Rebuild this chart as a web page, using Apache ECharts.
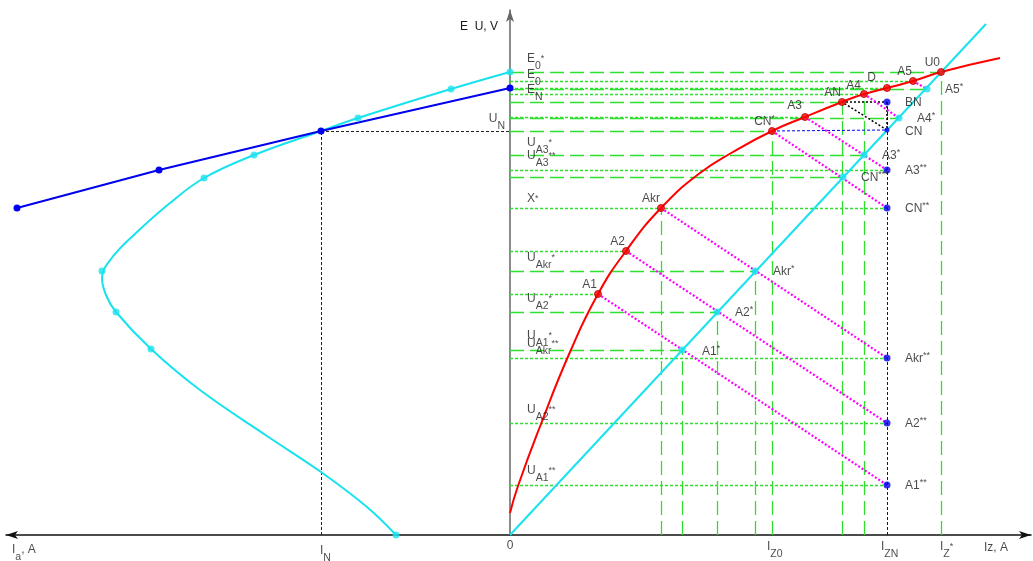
<!DOCTYPE html>
<html><head><meta charset="utf-8">
<script src="https://cdn.jsdelivr.net/npm/echarts@6/dist/echarts.min.js"></script>
<style>html,body{margin:0;padding:0;background:#fff}#c{width:1033px;height:561px}</style>
</head><body><div id="c"></div>
<script>
// ---------------- data (arbitrary units) ----------------
// right half: Iz (x) vs U (y)
const redCurve = [[0,22],[8,49],[31,111],[60,183],[88,241],[116,284],[151,327],[190,362],[223,383],[262,404],[295,418],[332,433],[354,441],[377,447],[403,454],[431,463],[490,477]];
const redPoints = [['A1',88,241],['A2',116,284],['Akr',151,327],['CN*',262,404],['A3',295,418],['AN',332,433],['A4',354,441],['D',377,447],['A5',403,454],['U0',431,463]];
const cyanLine = [[0,0],[476,511]];
const cyanPoints = [['A1*',172,185],['A2*',207,223],['Akr*',245,264],['CN***',333,358],['A3*',354,380],['A4*',389,417],['A5*',417,446]];
const bluePoints = [['BN',377,433],['CN',377,405],['A3**',377,365],['CN**',377,327],['Akr**',377,177],['A2**',377,112],['A1**',377,50]];
// left half: Ia (negative x) vs E
const leftBlue = [[-493,327],[-351,365],[-189,404],[0,447]];
const leftCyanCurve = [[0,463],[-59,446],[-152,417],[-189,404],[-256,380],[-306,357],[-340,332],[-374,302],[-399,276],[-408,257],[-404,240],[-394,223],[-359,186],[-310,145],[-243,99],[-189,63],[-143,28],[-114,0]];
const leftCyanMarks = [[0,463],[-59,446],[-152,417],[-256,380],[-306,357],[-408,264],[-394,223],[-359,186],[-114,0]];
const pointIN = [-189,404];
// construction lines (by point name)
const magentaPairs = [['A1','A1**'],['A2','A2**'],['Akr','Akr**'],['CN*','CN**'],['A3','A3**'],['A4','A4*'],['A5','A5*']];
const hDashedTo = ['U0','A5*','AN','A4*','CN*','A3*','CN***','Akr*','A2*','A1*'];
const hDottedTo = ['A5','D','A4','A3','A3**','CN**','A2','A1','Akr**','A2**','A1**'];
const vDashedFrom = ['Akr','A1*','A2*','Akr*','CN*','AN','A4','U0'];
const triangle = ['AN','BN','CN','AN'];
// text labels
const axisLabels = [['E_0^*',463],['E_0',454],['E_N',447],['U_A3^*',380],['U_A3^**',365],['X^*',327],['U_Akr^*',264],['U_A2^*',223],['U_A1^*',185],['U_Akr^**',177],['U_A2^**',112],['U_A1^**',50]];
const bottomLabels = [['0',0],['I_Z0',262],['I_ZN',377],['I_Z^*',431],['I_N',-189]];
const xName = 'Iz, A';
const yName = 'E  U, V';
const leftName = 'I_a|, A';

// ---------------- styling ----------------
const X_MIN = -504, X_MAX = 521, Y_MIN = 0, Y_MAX = 525;
const FONT = '"Liberation Sans", Arial, sans-serif';
const TXT = '#1a1a1a';
const GREEN = '#2fe02f', RED = '#ff0000', CYAN = '#19e2ef', BLUE = '#0000ee', MAG = '#ff00ff';

const pts = {};
redPoints.concat(cyanPoints, bluePoints).forEach(p => pts[p[0]] = [p[1], p[2]]);

function rich(str) {
  let tail = '';
  if (str.indexOf('|') >= 0) { tail = str.split('|')[1]; str = str.split('|')[0]; }
  let sup = '', sub = '', main = str;
  if (main.indexOf('^') >= 0) { sup = main.split('^')[1]; main = main.split('^')[0]; }
  if (main.indexOf('_') >= 0) { sub = main.split('_')[1]; main = main.split('_')[0]; }
  let s = '{m|' + main + '}';
  if (sub) s += '{s|' + sub + '}';
  if (sup) s += '{p|' + sup + '}';
  if (tail) s += '{m|' + tail + '}';
  return s;
}
function richPoint(str) {
  const m = str.match(/^(.*?)(\**)$/);
  return '{m|' + m[1] + '}' + (m[2] ? '{p|' + m[2] + '}' : '');
}
const RICH_AX = {
  m: {fontSize: 12, fontFamily: FONT, color: TXT, lineHeight: 26},
  s: {fontSize: 10.5, fontFamily: FONT, color: TXT, lineHeight: 15, verticalAlign: 'bottom'},
  p: {fontSize: 9, fontFamily: FONT, color: TXT, lineHeight: 26, verticalAlign: 'middle'}
};
const RICH_PT = {
  m: {fontSize: 12, fontFamily: FONT, color: TXT, lineHeight: 16},
  p: {fontSize: 9, fontFamily: FONT, color: TXT, lineHeight: 12, verticalAlign: 'top'}
};
const redOffsets = {'D': [-11,-10], 'CN*': [3,-9], 'A3': [-3,-11], 'A4': [-3,-8]};
const rightOffsets = {'A1*': [20,2], 'CN': [18,2]};
const axisDy = {'E_0^*': -13, 'E_0': -6.5, 'E_N': 1.5, 'X^*': -9, 'U_A3^*': -12.5, 'U_A3^**': -14, 'U_A1^*': -14, 'U_Akr^**': -14, 'U_A1^**': -14};
const bottomOff = {'0': [0,11,'center'], 'I_Z0': [-5,12,'left'], 'I_ZN': [-6,12,'left'], 'I_Z^*': [-1,12,'left'], 'I_N': [-1,16,'left']};

function seg(a, b) { return {coords: [a, b]}; }
function linesSeries(data, color, width, type, z) {
  return {type: 'lines', coordinateSystem: 'cartesian2d', polyline: false, silent: true, z: z,
    data: data, lineStyle: {color: color, width: width, type: type, opacity: 1}};
}

const series = [];
series.push(linesSeries(hDashedTo.map(n => seg([0, pts[n][1]], pts[n])), GREEN, 1.3, [14, 6], 1));
series.push(linesSeries(hDottedTo.map(n => seg([0, pts[n][1]], pts[n])), GREEN, 1.3, [3, 2], 1));
series.push(linesSeries(vDashedFrom.map(n => seg([pts[n][0], 0], pts[n])), GREEN, 1.3, [14, 6], 1));
series.push(linesSeries([seg([pts['BN'][0], 0], pts['BN']), seg(pts['CN*'], pts['CN'])], BLUE, 1, [3, 2], 2));
series.push(linesSeries(triangle.slice(1).map((n, i) => seg(pts[triangle[i]], pts[n])), '#000', 1.5, [2, 2], 2));
series.push(linesSeries([seg([pointIN[0], 0], pointIN), seg(pointIN, [0, pointIN[1]])], '#222', 1, [3, 2], 2));
series.push(linesSeries(magentaPairs.map(p => seg(pts[p[0]], pts[p[1]])), MAG, 2.2, [2, 2], 2));

series.push({type: 'line', data: redCurve, smooth: 0.5, showSymbol: false, silent: true, z: 3,
  lineStyle: {color: RED, width: 2}});
series.push({type: 'line', data: cyanLine, showSymbol: false, silent: true, z: 3, lineStyle: {color: CYAN, width: 2}});
series.push({type: 'line', data: leftCyanCurve, smooth: 0.4, showSymbol: false, silent: true, z: 3, lineStyle: {color: CYAN, width: 2}});
series.push({type: 'line', data: leftBlue, symbol: 'circle', symbolSize: 7, silent: true, z: 4,
  lineStyle: {color: BLUE, width: 2}, itemStyle: {color: BLUE}});
series.push({type: 'scatter', data: leftCyanMarks, symbolSize: 7, silent: true, z: 4, itemStyle: {color: CYAN}});

series.push({type: 'scatter', symbolSize: 7, silent: true, z: 5, itemStyle: {color: RED, borderColor: '#b00000', borderWidth: 1},
  data: redPoints.map(p => ({value: [p[1], p[2]], label: {show: true, position: 'inside', align: 'right', verticalAlign: 'middle',
    offset: redOffsets[p[0]] || [-1, -9], formatter: richPoint(p[0]), rich: RICH_PT}}))});
series.push({type: 'scatter', symbolSize: 7, silent: true, z: 5, itemStyle: {color: CYAN},
  data: cyanPoints.map(p => ({value: [p[1], p[2]], label: {show: true, position: 'inside', align: 'left', verticalAlign: 'middle',
    offset: rightOffsets[p[0]] || [18, 1], formatter: richPoint(p[0]), rich: RICH_PT}}))});
series.push({type: 'scatter', silent: true, z: 5, itemStyle: {color: BLUE},
  data: bluePoints.map(p => ({value: [p[1], p[2]], symbolSize: p[0] === 'CN' ? 5 : 7,
    label: {show: true, position: 'inside', align: 'left', verticalAlign: 'middle',
    offset: rightOffsets[p[0]] || [18, 1], formatter: richPoint(p[0]), rich: RICH_PT}}))});

const anchorStyle = {color: 'rgba(0,0,0,0)'};
series.push({type: 'scatter', symbolSize: 1, silent: true, z: 6, itemStyle: anchorStyle,
  data: axisLabels.map(l => ({value: [0, l[1]], label: {show: true, position: 'inside', align: 'left', verticalAlign: 'middle',
    offset: [17, axisDy[l[0]] !== undefined ? axisDy[l[0]] : -13], formatter: rich(l[0]), rich: RICH_AX}}))
    .concat([{value: [0, pointIN[1]], label: {show: true, position: 'inside', align: 'right', verticalAlign: 'middle',
      offset: [-5, -12], formatter: rich('U_N'), rich: RICH_AX}}])});
series.push({type: 'scatter', symbolSize: 1, silent: true, z: 6, itemStyle: anchorStyle,
  data: bottomLabels.map(l => ({value: [l[1], 0], label: {show: true, position: 'inside', align: bottomOff[l[0]][2], verticalAlign: 'middle',
    offset: [bottomOff[l[0]][0], bottomOff[l[0]][1]], formatter: rich(l[0]), rich: RICH_AX}}))
    .concat([{value: [X_MIN, 0], label: {show: true, position: 'inside', align: 'left', verticalAlign: 'middle',
      offset: [6, 15], formatter: rich(leftName), rich: RICH_AX}},
      {value: [X_MAX, 0], label: {show: true, position: 'inside', align: 'left', verticalAlign: 'middle',
      offset: [-47, 13], formatter: rich(xName), rich: RICH_AX}}])});

const chart = echarts.init(document.getElementById('c'), null, {renderer: 'canvas'});
chart.setOption({
  animation: false,
  backgroundColor: '#fff',
  grid: {left: 6, right: 2, top: 10, bottom: 26, containLabel: false},
  xAxis: {type: 'value', min: X_MIN, max: X_MAX,
    axisLine: {show: true, onZero: true, symbol: ['arrow', 'arrow'], symbolSize: [6, 12], lineStyle: {color: '#111', width: 1.5}},
    axisTick: {show: false}, axisLabel: {show: false}, splitLine: {show: false}},
  yAxis: {type: 'value', min: Y_MIN, max: Y_MAX,
    name: yName, nameLocation: 'end', nameGap: -17,
    nameTextStyle: {fontFamily: FONT, fontSize: 12, color: TXT, align: 'right', verticalAlign: 'middle', padding: [0, 12, 0, 0]},
    axisLine: {show: true, onZero: true, symbol: ['none', 'arrow'], symbolSize: [6, 12], lineStyle: {color: '#666', width: 1.5}},
    axisTick: {show: false}, axisLabel: {show: false}, splitLine: {show: false}},
  series: series
});
</script></body></html>
